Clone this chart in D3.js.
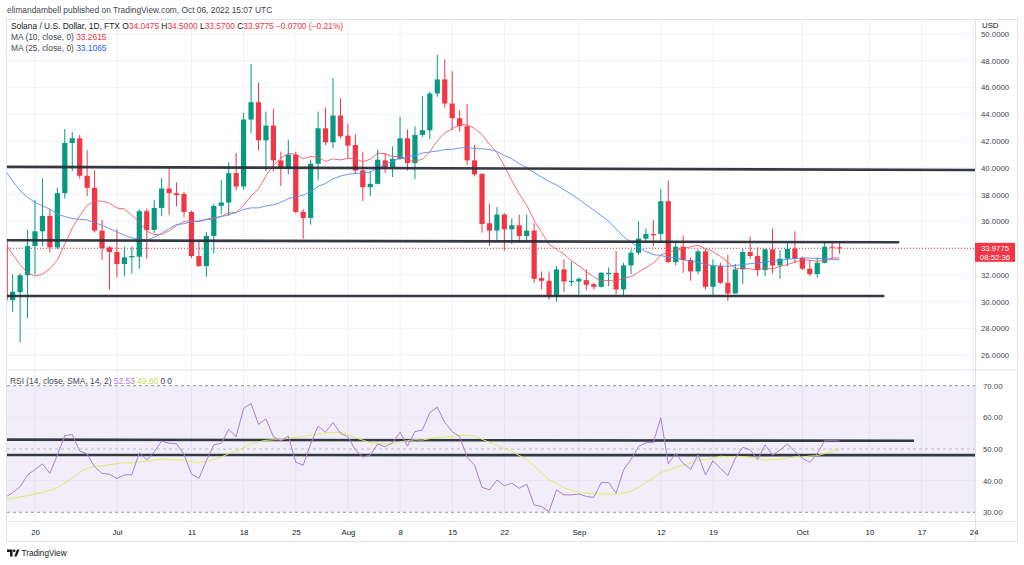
<!DOCTYPE html>
<html><head><meta charset="utf-8">
<script src="https://cdn.jsdelivr.net/npm/d3@7"></script>
<style>
body{margin:0;background:#fff;}
svg{display:block;font-family:"Liberation Sans",Arial,sans-serif;}
</style>
</head><body>
<svg id="c" width="1024" height="565"></svg>
<script>
// ---------- DATA ----------
const firstDay = new Date(2022, 5, 16); // Jun 16 2022, daily candles
const opens = [34.70,30.10,30.70,31.97,34.15,35.25,36.40,34.05,38.10,41.85,42.20,39.40,38.50,35.30,34.05,33.70,32.80,33.30,33.35,36.75,35.35,37.00,38.45,38.10,38.05,36.70,33.40,32.65,34.90,37.15,37.40,39.60,38.60,43.60,44.90,42.05,43.15,40.55,39.95,40.98,36.70,36.25,40.30,42.95,41.90,43.90,42.40,41.70,39.80,38.55,38.80,40.55,40.05,40.65,42.20,40.35,42.45,42.80,45.55,46.60,44.80,43.70,43.10,40.55,39.55,35.85,35.30,36.50,35.40,35.70,34.90,35.30,31.75,31.55,30.45,32.40,31.45,31.50,31.60,31.30,31.10,32.05,32.15,30.90,32.70,33.65,34.70,35.05,35.05,37.50,32.95,34.10,33.10,32.25,33.75,31.10,32.65,31.40,30.60,32.40,33.70,33.40,32.35,33.90,32.70,33.20,33.95,33.25,32.45,32.05,32.90,34.10,34.0475];
const highs = [34.90,32.05,32.10,35.35,37.60,39.20,36.90,38.50,42.90,42.65,42.45,41.30,39.80,36.10,34.15,35.40,34.10,34.10,36.90,36.95,37.60,39.25,40.05,38.90,38.20,36.80,34.50,35.20,37.30,39.10,40.40,41.10,44.10,47.75,46.35,44.20,44.40,41.20,42.10,41.20,36.90,40.60,44.20,44.50,46.70,45.20,43.30,42.50,41.20,39.75,41.35,41.10,41.60,43.80,42.85,43.10,45.35,45.70,48.45,48.10,47.20,44.30,44.75,41.70,39.55,37.30,37.05,36.60,36.20,36.50,36.50,35.85,32.25,32.25,32.65,33.15,33.00,31.80,32.40,31.40,32.20,32.55,33.80,32.90,33.90,36.00,35.45,36.10,38.40,39.05,34.45,34.95,33.30,33.90,33.90,33.15,32.90,33.50,32.80,33.95,34.85,34.05,33.95,35.45,33.85,34.40,35.25,33.35,33.10,33.30,34.50,34.45,34.50];
const lows = [29.90,29.24,26.96,28.74,32.00,34.15,33.65,33.90,37.70,39.75,39.20,37.90,35.15,33.10,30.90,31.80,31.90,32.10,32.45,33.20,35.10,36.40,36.50,37.10,36.30,33.25,32.60,31.85,33.60,36.50,36.40,38.30,38.35,42.60,41.30,39.75,39.75,38.65,39.50,36.60,34.70,35.75,39.05,41.70,41.45,42.20,40.65,39.55,37.50,37.90,38.75,39.60,39.30,40.60,39.80,39.15,42.30,42.15,45.30,44.50,42.80,42.70,40.20,39.35,35.15,34.15,34.60,33.80,34.30,34.40,34.50,31.40,30.90,30.15,30.00,30.70,31.15,30.50,30.85,30.90,31.05,31.15,30.55,30.40,32.05,33.50,34.35,34.15,34.45,32.90,32.70,32.15,31.55,32.05,30.90,30.50,31.30,30.05,30.60,31.30,33.20,31.90,31.90,32.10,31.70,32.65,32.90,32.35,31.90,31.80,32.85,33.20,33.57];
const closes = [30.10,30.73,31.97,34.15,35.25,36.40,34.05,38.10,41.85,42.20,39.40,38.50,35.30,34.00,33.70,32.80,33.30,33.40,36.75,35.35,37.00,38.45,38.10,37.95,36.70,33.40,32.65,34.90,37.15,37.40,39.60,38.60,43.60,44.90,42.05,43.15,40.55,39.95,40.98,36.70,36.25,40.30,42.95,41.90,43.90,42.35,41.65,39.80,38.55,38.80,40.60,40.05,40.65,42.20,40.35,42.45,42.80,45.55,46.60,44.80,43.70,43.10,40.55,39.50,35.80,35.30,36.50,35.40,35.70,34.90,35.30,31.70,31.55,30.45,32.40,31.50,31.55,31.70,31.25,31.10,32.15,32.15,30.90,32.70,33.65,34.70,35.05,34.95,37.50,32.95,34.10,33.10,32.25,33.75,31.10,32.70,31.40,30.60,32.40,33.70,33.40,32.35,33.90,32.70,33.20,33.95,33.20,32.45,32.05,32.90,34.10,34.05,33.9775];
// moving-average values before a full window exists
const ma10Lead = [34.35,33.55,32.75,32.15,31.90,32.05,32.45,33.10,34.30];
const ma25Lead = [39.80,39.00,38.30,37.80,37.40,37.15,36.90,36.55,36.35,36.20,36.15,36.10,35.90,35.70,35.45,35.20,34.95,34.75,34.65,34.60,34.80,35.10,35.45,35.75];
const rsiValues = [34.7,36.2,38.1,41.8,43.5,45.3,42.3,48.1,54.2,54.6,49.4,48.4,44.4,42.3,42.0,40.7,41.8,41.9,48.8,46.5,49.1,52.5,51.8,51.7,48.3,42.1,40.7,46.3,51.3,51.8,56.2,53.9,62.8,64.4,57.8,59.5,53.9,52.6,54.1,45.8,44.9,51.6,57.3,55.3,58.4,54.9,53.9,49.7,47.4,48.1,51.6,50.7,52.0,55.3,50.9,55.5,56.0,61.5,63.2,58.4,55.5,53.9,47.4,44.9,37.9,37.1,40.2,38.4,39.2,37.6,38.9,32.3,31.8,30.2,37.1,35.5,35.5,35.8,35.0,34.7,39.4,39.4,36.0,43.4,46.7,50.7,52.0,52.0,59.9,45.3,48.6,45.5,43.6,48.1,41.8,46.3,43.9,41.6,47.1,50.5,49.7,46.7,51.3,48.1,49.7,51.6,49.2,47.1,45.8,48.6,52.6,52.6,52.53];
const rsiSmaLead = [34.0,34.4,34.8,35.3,35.8,36.3,36.9,37.8,39.3,40.8,42.6,43.9,44.6];
// legend read-outs as printed on the chart
const legendOHLC = ["34.0475","34.5000","33.5700","33.9775"];
const legendChange = "\u22120.0700 (\u22120.21%)";
const legendMA = ["33.2615","33.1065"];
const legendRSI = ["52.53","49.80","0","0"];
const priceTicks = [26,28,30,32,34,36,38,40,42,44,46,48,50];
const rsiTicks = [30,40,50,60,70];
const timeTickDates = ["2022-06-20","2022-07-01","2022-07-11","2022-07-18","2022-07-25","2022-08-01","2022-08-08","2022-08-15","2022-08-22","2022-09-01","2022-09-12","2022-09-19","2022-10-01","2022-10-10","2022-10-17","2022-10-24"];
const timeTickLabels = ["20","Jul","11","18","25","Aug","8","15","22","Sep","12","19","Oct","10","17","24"];
// user-drawn trend lines: [startDate, startValue, endDate, endValue]
const priceLines = [["2022-06-15",40.07,"2022-10-28",39.82],["2022-06-15",34.58,"2022-10-14",34.43],["2022-06-15",30.41,"2022-10-12",30.41]];
const rsiLines = [["2022-06-15",52.95,"2022-10-16",52.6],["2022-06-15",48.1,"2022-10-28",48.05]];

// ---------- SETUP ----------
const parse = d3.timeParse("%Y-%m-%d");
const dates = opens.map((_, i) => d3.timeDay.offset(firstDay, i));
const candles = dates.map((d, i) => ({d, o: opens[i], h: highs[i], l: lows[i], c: closes[i]}));
function sma(vals, n, lead) {
  return vals.map((v, i) => i < n - 1 ? lead[i] : d3.mean(vals.slice(i - n + 1, i + 1)));
}
const ma10 = sma(closes, 10, ma10Lead);
const ma25 = sma(closes, 25, ma25Lead);
const rsiSma = sma(rsiValues, 14, rsiSmaLead);

const L = 7, R = 975, PT = 20, PB = 369, RT = 371, RB = 521;
const UP = "#089981", DN = "#f23645";
const x = d3.scaleTime().domain([parse("2022-06-20"), parse("2022-10-24")]).range([35, 35 + 7.45 * 126]);
const y = d3.scaleLinear().domain([26, 50]).range([355.06, 33.94]);
const yr = d3.scaleLinear().domain([30, 70]).range([512.3, 385.7]);

const svg = d3.select("#c");
const defs = svg.append("defs");
defs.append("clipPath").attr("id", "cp").append("rect").attr("x", L).attr("y", PT).attr("width", R - L).attr("height", PB - PT);
defs.append("clipPath").attr("id", "cr").append("rect").attr("x", L).attr("y", RT).attr("width", R - L).attr("height", RB - RT);

svg.append("rect").attr("width", 1024).attr("height", 565).attr("fill", "#fff");

// publisher line
svg.append("text").attr("x", 7).attr("y", 13).attr("font-size", 8.4).attr("fill", "#434651")
  .text("elimandambell published on TradingView.com, Oct 06, 2022 15:07 UTC");

// frame
svg.append("rect").attr("x", 6.5).attr("y", 19.5).attr("width", 1011).attr("height", 522)
  .attr("fill", "none").attr("stroke", "#e0e3eb");

// grids
const grid = svg.append("g");
grid.selectAll(".hg").data(priceTicks).join("line")
  .attr("x1", L).attr("x2", R).attr("y1", d => y(d)).attr("y2", d => y(d))
  .attr("stroke", "#f0f3fa").attr("clip-path", "url(#cp)");
grid.selectAll(".vg").data(timeTickDates).join("line")
  .attr("x1", d => x(parse(d))).attr("x2", d => x(parse(d))).attr("y1", PT).attr("y2", RB)
  .attr("stroke", "#f0f3fa");

// RSI pane background band
const rp = svg.append("g").attr("clip-path", "url(#cr)");
rp.append("rect").attr("x", L).attr("width", R - L).attr("y", yr(70)).attr("height", yr(30) - yr(70))
  .attr("fill", "rgba(126,87,194,0.1)");
rp.selectAll(".rg").data([40, 60]).join("line")
  .attr("x1", L).attr("x2", R).attr("y1", d => yr(d)).attr("y2", d => yr(d)).attr("stroke", "#e9e4f3");
rp.selectAll(".band").data([70, 50, 30]).join("line")
  .attr("x1", L).attr("x2", R).attr("y1", d => yr(d)).attr("y2", d => yr(d))
  .attr("stroke", "#787b86").attr("stroke-dasharray", "3,3").attr("stroke-opacity", d => d === 50 ? 0.45 : 0.75);

// separators
svg.append("line").attr("x1", L).attr("x2", 1017).attr("y1", 370).attr("y2", 370).attr("stroke", "#e0e3eb");
svg.append("line").attr("x1", R + 0.5).attr("x2", R + 0.5).attr("y1", PT).attr("y2", 541).attr("stroke", "#e0e3eb");
svg.append("line").attr("x1", L).attr("x2", 1017).attr("y1", RB + 0.5).attr("y2", RB + 0.5).attr("stroke", "#e0e3eb");

// price pane
const pp = svg.append("g").attr("clip-path", "url(#cp)");
pp.append("line").attr("x1", L).attr("x2", R).attr("y1", y(closes[closes.length - 1])).attr("y2", y(closes[closes.length - 1]))
  .attr("stroke", DN).attr("stroke-dasharray", "1,2").attr("stroke-width", 1);
const cg = pp.selectAll(".cd").data(candles).join("g");
cg.append("line").attr("x1", d => x(d.d)).attr("x2", d => x(d.d)).attr("y1", d => y(d.h)).attr("y2", d => y(d.l))
  .attr("stroke", d => d.c >= d.o ? UP : DN).attr("stroke-width", 1);
cg.append("rect").attr("x", d => x(d.d) - 2.6).attr("width", 5.2)
  .attr("y", d => y(Math.max(d.o, d.c))).attr("height", d => Math.max(1, Math.abs(y(d.o) - y(d.c))))
  .attr("fill", d => d.c >= d.o ? UP : DN);
const lineP = vals => d3.line().x((d, i) => x(dates[i])).y(d => y(d))(vals);
pp.append("path").attr("d", lineP(ma10)).attr("fill", "none").attr("stroke", "#f7525f").attr("stroke-width", 1).attr("stroke-opacity", 0.85);
pp.append("path").attr("d", lineP(ma25)).attr("fill", "none").attr("stroke", "#5b8cf5").attr("stroke-width", 1).attr("stroke-opacity", 0.9);
pp.selectAll(".tl").data(priceLines).join("line")
  .attr("x1", d => x(parse(d[0]))).attr("y1", d => y(d[1])).attr("x2", d => x(parse(d[2]))).attr("y2", d => y(d[3]))
  .attr("stroke", "#2a2e39").attr("stroke-width", 2.6).attr("stroke-opacity", 0.95);

// RSI lines
const lineR = vals => d3.line().x((d, i) => x(dates[i])).y(d => yr(d))(vals);
rp.selectAll(".rl").data(rsiLines).join("line")
  .attr("x1", d => x(parse(d[0]))).attr("y1", d => yr(d[1])).attr("x2", d => x(parse(d[2]))).attr("y2", d => yr(d[3]))
  .attr("stroke", "#2a2e39").attr("stroke-width", 2.6).attr("stroke-opacity", 0.95);
rp.append("path").attr("d", lineR(rsiSma)).attr("fill", "none").attr("stroke", "#dcec6a").attr("stroke-width", 1);
rp.append("path").attr("d", lineR(rsiValues)).attr("fill", "none").attr("stroke", "#a97fd8").attr("stroke-width", 1);

// axes
const pa = svg.append("g").attr("transform", `translate(${R},0)`)
  .call(d3.axisRight(y).tickValues(priceTicks).tickSize(0).tickPadding(6).tickFormat(d => d.toFixed(4)));
const ra = svg.append("g").attr("transform", `translate(${R},0)`)
  .call(d3.axisRight(yr).tickValues(rsiTicks).tickSize(0).tickPadding(8).tickFormat(d => d.toFixed(2)));
const ta = svg.append("g").attr("transform", `translate(0,${RB + 5})`)
  .call(d3.axisBottom(x).tickValues(timeTickDates.map(parse)).tickSize(0).tickPadding(3)
    .tickFormat((d, i) => timeTickLabels[i]));
[pa, ra, ta].forEach(g => {
  g.select(".domain").remove();
  g.selectAll("text").attr("font-size", 7.8).attr("fill", "#434651").attr("font-family", "Liberation Sans, Arial, sans-serif");
});
ta.selectAll("text").attr("fill", "#131722");

svg.append("rect").attr("x", R + 1).attr("y", 20).attr("width", 41).attr("height", 12).attr("fill", "#fff");
svg.append("text").attr("x", 982).attr("y", 28).attr("font-size", 7.8).attr("fill", "#131722").text("USD");

const lp = closes[closes.length - 1];
svg.append("rect").attr("x", R).attr("y", y(lp) - 5.5).attr("width", 40).attr("height", 19).attr("fill", DN);
svg.append("text").attr("x", 995).attr("y", y(lp) + 2.8).attr("text-anchor", "middle").attr("font-size", 7.8).attr("fill", "#fff").text(lp.toFixed(4));
svg.append("text").attr("x", 995).attr("y", y(lp) + 11.6).attr("text-anchor", "middle").attr("font-size", 7.8).attr("fill", "#fff").text("08:52:36");

// legends (flowing text)
const fs = 8.4, DK = "#131722", GR = "#434651";
const l1 = svg.append("text").attr("x", 11).attr("y", 29).attr("font-size", fs).attr("fill", DK);
l1.append("tspan").text("Solana / U.S. Dollar, 1D, FTX  O");
l1.append("tspan").attr("fill", DN).text(legendOHLC[0]);
l1.append("tspan").text(" H");
l1.append("tspan").attr("fill", DN).text(legendOHLC[1]);
l1.append("tspan").text(" L");
l1.append("tspan").attr("fill", DN).text(legendOHLC[2]);
l1.append("tspan").text(" C");
l1.append("tspan").attr("fill", DN).text(legendOHLC[3] + " " + legendChange);
const l2 = svg.append("text").attr("x", 11).attr("y", 40).attr("font-size", fs).attr("fill", GR);
l2.append("tspan").text("MA (10, close, 0) ");
l2.append("tspan").attr("fill", DN).text(" " + legendMA[0]);
const l3 = svg.append("text").attr("x", 11).attr("y", 50.5).attr("font-size", fs).attr("fill", GR);
l3.append("tspan").text("MA (25, close, 0) ");
l3.append("tspan").attr("fill", "#2962ff").text(" " + legendMA[1]);
const l4 = svg.append("text").attr("x", 10).attr("y", 383.5).attr("font-size", fs).attr("fill", GR);
l4.append("tspan").text("RSI (14, close, SMA, 14, 2) ");
l4.append("tspan").attr("fill", "#a97fd8").text(" " + legendRSI[0]);
l4.append("tspan").attr("fill", "#c8d84a").text("  " + legendRSI[1]);
l4.append("tspan").text("   " + legendRSI[2] + "   " + legendRSI[3]);

// TradingView mark
const tv = svg.append("g").attr("fill", "#131722");
tv.append("path").attr("d", "M7,549.5 h5.5 v7 h-2.4 v-4.6 h-3.1 z");
tv.append("circle").attr("cx", 14.2).attr("cy", 550.8).attr("r", 1.3);
tv.append("path").attr("d", "M14.2,556.5 l2.8,-7 h2.5 l-2.8,7 z");
svg.append("text").attr("x", 21.5).attr("y", 556).attr("font-size", 8.2).attr("fill", "#131722").text("TradingView");
</script>
</body></html>
